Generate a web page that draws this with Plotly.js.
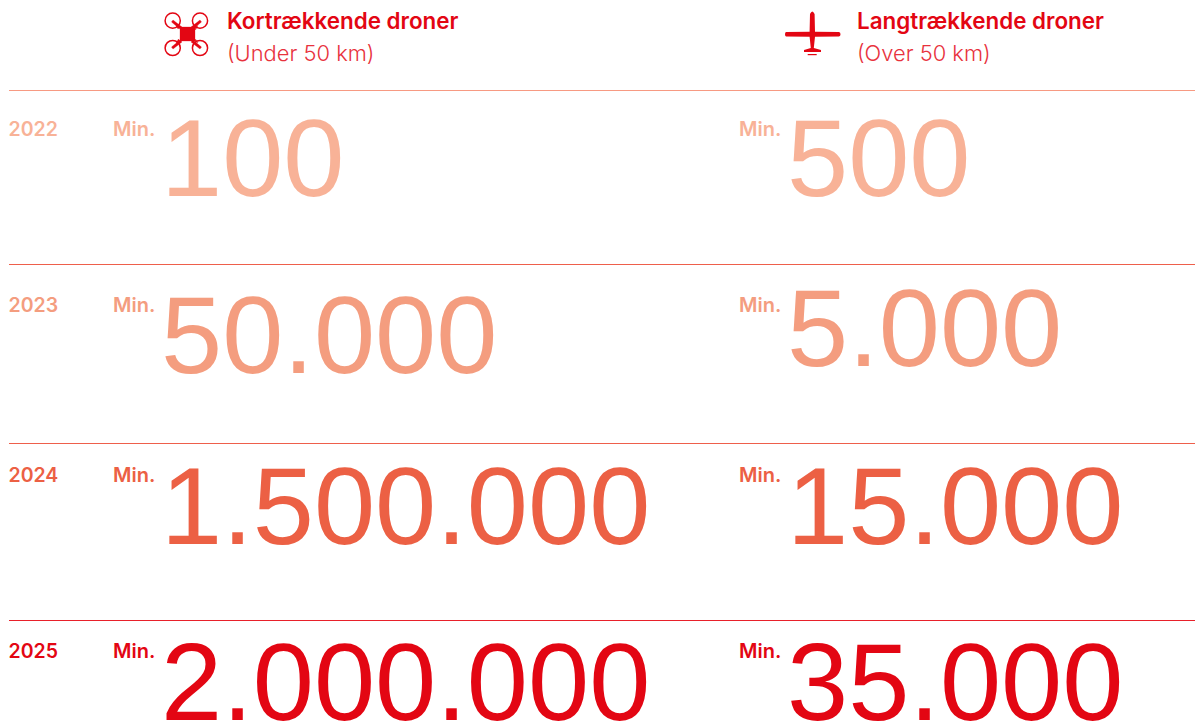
<!DOCTYPE html>
<html><head><meta charset="utf-8">
<script src="https://cdn.plot.ly/plotly-3.0.1.min.js"></script>
<style>html,body{margin:0;padding:0;background:#fff;overflow:hidden}#c{width:1195px;height:722px}</style>
</head><body><div id="c"></div>
<script>
const years = ["2022","2023","2024","2025"];
const shortRange = ["100","50.000","1.500.000","2.000.000"];
const longRange = ["500","5.000","15.000","35.000"];
const minLabel = "Min.";
const headShort = "Kortrækkende droner", subShort = "(Under 50 km)";
const headLong = "Langtrækkende droner", subLong = "(Over 50 km)";

const RED = "#e30613";
const rowColors = ["#f8b297","#f49d7f","#ec6044","#e30613"];
const rowY = [131,307,477,653];
const bigY = [168,345,516,692];
const bigYLong = [168,338,516,692];
const lineY = [90.5,264.5,443.5,620.5];
const lineColors = ["#f79a82","#ee5f4b","#ee5f4b","#e8202a"];
const SMALL = "Inter, Arial, sans-serif";
const BIGF = "'Liberation Sans', Arial, sans-serif";
const BIG = 110;

const traces = [];
function txt(x, y, text, size, color, weight, fam) {
  traces.push({type:"scatter", mode:"text", x:[x], y:[y], text:[text],
    textposition:"middle right", hoverinfo:"skip", cliponaxis:false, showlegend:false,
    textfont:{family:fam||SMALL, size:size, color:color, weight:weight||400}});
}
years.forEach((yr,i)=>{
  const c = rowColors[i];
  txt(8.5, rowY[i], yr, 19.5, c, 600);
  txt(113, rowY[i], minLabel, 20, c, 600);
  txt(739, rowY[i], minLabel, 20, c, 600);
  txt(161, bigY[i], shortRange[i], BIG, c, 400, BIGF);
  txt(787, bigYLong[i], longRange[i], BIG, c, 400, BIGF);
});
txt(227, 23.5, headShort, 22.4, RED, 600);
txt(227, 56, subShort, 21.9, "#e8323d", 300);
txt(857, 23.5, headLong, 22.4, RED, 600);
txt(857, 56, subLong, 21.9, "#e8323d", 300);

const shapes = lineY.map((y,i)=>({type:"line", xref:"x", yref:"y", x0:9, x1:1195, y0:y, y1:y,
  line:{color:lineColors[i], width:1}}));
function path(d, fill, lineW){
  shapes.push({type:"path", xref:"x", yref:"y", path:d, fillcolor:fill||"rgba(0,0,0,0)",
    line:{color:RED, width:lineW||0}});
}
function circle(cx,cy,r){
  shapes.push({type:"circle", xref:"x", yref:"y", x0:cx-r, x1:cx+r, y0:cy-r, y1:cy+r,
    fillcolor:"rgba(0,0,0,0)", line:{color:RED, width:1.5}});
}
// drone icon
[[172.7,20.7],[200,20.7],[172.7,48],[200,48]].forEach(p=>circle(p[0],p[1],7.6));
path("M 173 20 L 182 27 L 180 29 L 171.5 22 Z",RED,0.3);
path("M 200 20 L 191 27 L 193 29 L 201.5 22 Z",RED,0.3);
path("M 173 49 L 182 42 L 180 40 L 171.5 47 Z",RED,0.3);
path("M 200 49 L 191 42 L 193 40 L 201.5 47 Z",RED,0.3);
path("M 180 27 L 195 27 L 195 41 L 180 41 Z",RED,0.3);
path("M 180 27 L 176 25.5 L 178 29 Z M 195 27 L 198 25.5 L 195.5 30 Z M 180 41 L 176 43 L 178.5 39 Z M 195 41 L 198 43 L 195.5 39 Z",RED,0.3);
// plane icon
path("M 810 14 Q 812.3 9 814.6 14 L 815 31.7 L 839 32 Q 840.5 32.5 840.5 34.2 Q 840.5 36 839 36.4 L 815 36.8 L 813.8 48 L 821 50 L 821 52 L 804 52 L 804 50 L 810.8 48 L 809.6 36.8 L 786 36.4 Q 785 36 785 34.2 Q 785 32.5 786 32 L 809.6 31.7 Z",RED,0);
path("M 807.7 54 L 816.7 54 L 816.7 55.2 L 807.7 55.2 Z",RED,0);

Plotly.newPlot("c", traces, {
  width:1195, height:722, margin:{l:0,r:0,t:0,b:0},
  paper_bgcolor:"#fff", plot_bgcolor:"#fff", showlegend:false,
  xaxis:{range:[0,1195], visible:false, fixedrange:true},
  yaxis:{range:[722,0], visible:false, fixedrange:true},
  shapes:shapes
}, {displayModeBar:false, staticPlot:true});
</script></body></html>
